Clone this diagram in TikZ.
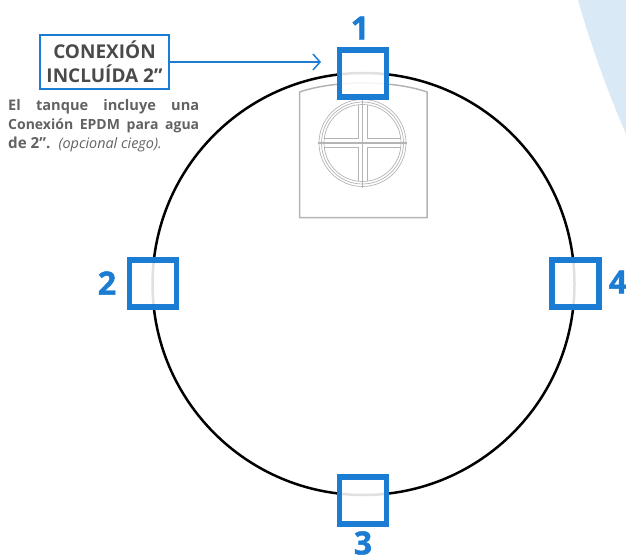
\documentclass[tikz,border=0pt]{standalone}
\usepackage{fontspec}
\setmainfont{Open Sans}
\newfontfamily\numfont[UprightFont={* Bold},FakeBold=1.4]{Open Sans}
\definecolor{mainblue}{HTML}{1A7DD3}
\definecolor{txtgray}{HTML}{4A4A4A}
\definecolor{softgray}{HTML}{626262}
\definecolor{wedge}{HTML}{D9E9F6}
\definecolor{panelgray}{HTML}{B4B4B4}
\usetikzlibrary{arrows.meta}
\tikzset{
  markbox/.style={draw=mainblue,line width=5.2pt,fill=white,fill opacity=.88,minimum size=47pt,inner sep=0pt,outer sep=0pt},
  num/.style={text=mainblue,font=\fontsize{32}{32}\numfont,inner sep=0pt},
  panel/.style={draw=panelgray,line width=1.5pt},
  ring/.style={draw=panelgray,line width=.7pt},
}
\begin{document}
\begin{tikzpicture}[x=1pt,y=-1pt]
\useasboundingbox (0,0) rectangle (626,556);
\fill[wedge] (578,0) .. controls (590,42) and (606,88) .. (626,134) -- (626,0) -- cycle;
% tank outline
\coordinate (c) at (363.5,284);
\draw[black,line width=2.5pt] (c) circle[radius=211];
% panel
\draw[panel] (299.5,92) .. controls (320,85) and (345,83) .. (363,83) .. controls (382,83) and (407,85) .. (427,92) -- (427,217.5) -- (299.5,217.5) -- cycle;
% window
\coordinate (w) at (362.5,143);
\foreach \r in {43.5,41,38.5}{\draw[ring] (w) circle[radius=\r];}
\draw[panelgray,line width=1.3pt] (318,143) -- (407,143);
\draw[ring] (362.5,100) -- (362.5,188);
\draw[ring] (358,105) -- (358,138.5) -- (324,138.5);
\draw[ring] (367,105) -- (367,138.5) -- (401,138.5);
\draw[ring] (358,181) -- (358,147.5) -- (324,147.5);
\draw[ring] (367,181) -- (367,147.5) -- (401,147.5);
% mark boxes
\node[markbox] (t) at (363,73.5) {};
\node[markbox] (l) at (153,283.5) {};
\node[markbox] (r) at (575.5,283.5) {};
\node[markbox] (b) at (363,500.5) {};
\node[num] (n1) at (360,28) {1};
\node[num] (n2) at (107,283) {2};
\node[num] (n4) at (618,282) {4};
\node[num] (n3) at (363,543) {3};
% callout
\node[draw=mainblue,line width=2pt,minimum width=129pt,minimum height=54.5pt,inner sep=0pt,align=center,text=txtgray,font=\fontsize{19}{24}\selectfont\bfseries] (call) at (104.5,62) {CONEXIÓN\\INCLUÍDA 2”};
\coordinate (tip) at (321,62);
\draw[mainblue,line width=1.5pt,-{Straight Barb[length=7pt,width=16pt,line width=1.5pt]}] (call.east) -- (tip);
% description
\node[anchor=north west,inner sep=0pt,text=softgray,font=\fontsize{14.6}{19}\selectfont\bfseries,align=left] (desc) at (8,99) {\hbox to 191pt{El\hfill tanque\hfill incluye\hfill una}\\\hbox to 191pt{\fontsize{14}{19}\selectfont Conexión\hfill EPDM\hfill para\hfill agua}\\\fontsize{15.2}{19}\selectfont de 2”.\hspace{8pt}{\mdseries\itshape\fontsize{14.4}{19}\selectfont (opcional ciego).}};
\end{tikzpicture}
\end{document}
